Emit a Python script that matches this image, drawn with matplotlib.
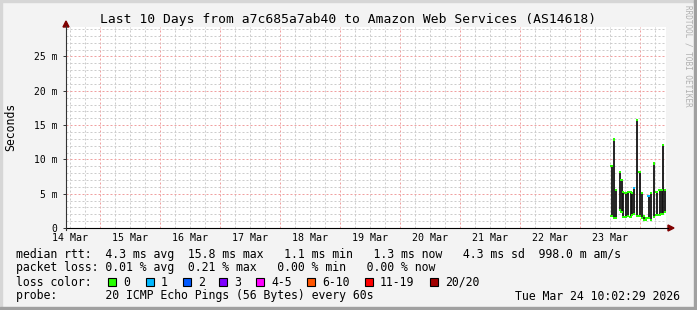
import pandas as pd
import matplotlib
matplotlib.use("Agg")
import matplotlib.pyplot as plt
from matplotlib.lines import Line2D
from matplotlib.patches import Polygon, Rectangle

# smoke samples (per RRD step) on 23/24 Mar, values in ms
times = ["2026-03-23 12:36", "2026-03-23 13:36", "2026-03-23 14:24", "2026-03-23 16:00",
         "2026-03-23 16:36", "2026-03-23 17:12", "2026-03-23 18:12", "2026-03-23 19:12",
         "2026-03-23 20:12", "2026-03-23 20:48", "2026-03-23 21:36", "2026-03-23 22:48",
         "2026-03-23 23:48", "2026-03-24 00:48", "2026-03-24 01:36", "2026-03-24 02:24",
         "2026-03-24 03:24", "2026-03-24 04:24", "2026-03-24 05:36", "2026-03-24 06:36",
         "2026-03-24 07:48", "2026-03-24 08:36", "2026-03-24 09:12", "2026-03-24 10:00"]
rtt_hi = [9.0, 12.9, 5.5, 8.2, 7.0, 5.3, 5.1, 5.3, 5.3, 5.1, 5.8, 15.8,
          8.2, 5.1, 1.75, 1.4, 4.7, 5.15, 9.4, 5.3, 5.5, 5.5, 12.1, 5.5]
rtt_lo = [1.75, 1.4, 1.5, 2.6, 2.4, 1.65, 1.55, 1.75, 1.65, 1.9, 2.1, 1.75,
          1.75, 1.4, 1.2, 1.1, 1.4, 1.2, 1.65, 1.9, 1.9, 2.0, 2.1, 2.4]
loss = [0, 0, 0, 0, 0, 0, 0, 0, 0, 0, 1, 0, 0, 0, 0, 0, 1, 0, 0, 0, 0, 0, 0, 0]

t_start = "2026-03-14 10:24"
t_end = "2026-03-24 10:24"
day_labels = ["14 Mar", "15 Mar", "16 Mar", "17 Mar", "18 Mar",
              "19 Mar", "20 Mar", "21 Mar", "22 Mar", "23 Mar"]
y_ticks = [0, 5, 10, 15, 20, 25]
y_labels = ["0", "5 m", "10 m", "15 m", "20 m", "25 m"]
y_max = 29.3

loss_names = ["0", "1", "2", "3", "4-5", "6-10", "11-19", "20/20"]
loss_colors = ["#26ff00", "#00b8ff", "#0059ff", "#7e00ff", "#ff00ff", "#ff5500", "#ff0000", "#a10000"]

stat_line = "median rtt:  4.3 ms avg  15.8 ms max   1.1 ms min   1.3 ms now   4.3 ms sd  998.0 m am/s"
loss_line = "packet loss: 0.01 % avg  0.21 % max   0.00 % min   0.00 % now"
probe_line = "probe:       20 ICMP Echo Pings (56 Bytes) every 60s"
stamp = "Tue Mar 24 10:02:29 2026"
title = "Last 10 Days from a7c685a7ab40 to Amazon Web Services (AS14618)"

mono = "DejaVu Sans Mono"
W, H = 697, 310
fig = plt.figure(figsize=(W / 100, H / 100), dpi=100, facecolor="#f3f3f3")


def fx(px):
    return px / W


def fy(py):
    return 1 - py / H


left, right, top, bottom = 66, 666, 27, 228
ax = fig.add_axes([fx(left), fy(bottom), (right - left) / W, (bottom - top) / H])
ax.set_facecolor("white")
for s in ax.spines.values():
    s.set_visible(False)

day0 = pd.Timestamp("2026-03-14")
def hours(t):
    return (pd.to_datetime(t) - day0) / pd.Timedelta(hours=1)

h = hours(pd.Series(times)).values
x0, x1 = hours(t_start), hours(t_end)
ax.set_xlim(x0, x1)
ax.set_ylim(0, y_max)

# grid
dots = (0, (2, 2))
for g in range(6, 252, 6):
    if x0 < g < x1:
        major = g % 24 == 0
        ax.axvline(g, color="#f0a0a0" if major else "#cccccc", lw=0.72, ls=dots, zorder=0)
for v in range(1, 30):
    major = v % 5 == 0
    ax.axhline(v, color="#f0a0a0" if major else "#cccccc", lw=0.72, ls=dots, zorder=0)

# smoke bars + median/loss markers
ax.vlines(h, rtt_lo, rtt_hi, colors="#111111", lw=1.3, zorder=2)
cols = [loss_colors[l] for l in loss]
ax.scatter(h, rtt_hi, marker="s", s=2.2, c=cols, linewidths=0, zorder=3)
ax.scatter(h, rtt_lo, marker="s", s=2.2, c=["#26ff00"] * len(h), linewidths=0, zorder=3)

# ticks
noons = [24 * i + 12 for i in range(len(day_labels))]
ax.set_xticks(noons, day_labels, fontsize=7.2, family=mono)
ax.tick_params(axis="x", length=0, pad=3.5)
ax.set_yticks(y_ticks, y_labels, fontsize=7, family=mono)
ax.tick_params(axis="y", length=2, width=0.7, pad=4, color="#333333")

# axes lines with arrows
axis_col = "#333333"
arrow_col = "#7f0000"
fig.add_artist(Line2D([fx(left), fx(668)], [fy(bottom), fy(bottom)], color="black", lw=0.8))
fig.add_artist(Line2D([fx(left), fx(left)], [fy(230), fy(26)], color=axis_col, lw=0.8))
fig.add_artist(Polygon([(fx(668), fy(225)), (fx(674), fy(228)), (fx(668), fy(231))],
                       closed=True, color=arrow_col, transform=fig.transFigure))
fig.add_artist(Polygon([(fx(63), fy(27)), (fx(66), fy(21)), (fx(69), fy(27))],
                       closed=True, color=arrow_col, transform=fig.transFigure))

# frame shading
fig.add_artist(Rectangle((0, fy(2)), 1, 2 / H, color="#d6d6d6", transform=fig.transFigure))
fig.add_artist(Rectangle((0, 0), 2 / W, 1, color="#d6d6d6", transform=fig.transFigure))
fig.add_artist(Rectangle((0, 0), 1, 3 / H, color="#a0a0a0", transform=fig.transFigure))
fig.add_artist(Rectangle((fx(694), 0), 3 / W, 1, color="#a0a0a0", transform=fig.transFigure))

# texts
fig.text(fx(348), fy(19), title, ha="center", va="center", fontsize=9.4, family=mono)
fig.text(fx(11), fy(127), "Seconds", ha="center", va="center", rotation=90, fontsize=8.3, family=mono)
fig.text(fx(688), fy(5), "RRDTOOL / TOBI OETIKER", ha="center", va="top", rotation=270,
         fontsize=5.5, family=mono, color="#b0b0b0")

fig.text(fx(16), fy(254.5), stat_line, ha="left", va="center", fontsize=8.3, family=mono)
fig.text(fx(16), fy(268), loss_line, ha="left", va="center", fontsize=8.3, family=mono)
fig.text(fx(16), fy(282), "loss color:", ha="left", va="center", fontsize=8.3, family=mono)
fig.text(fx(16), fy(296), probe_line, ha="left", va="center", fontsize=8.3, family=mono)
fig.text(fx(680), fy(296), stamp, ha="right", va="center", fontsize=8.3, family=mono)

box_x = [108, 146, 183, 219, 256, 307, 365, 430]
for bx, name, c in zip(box_x, loss_names, loss_colors):
    fig.add_artist(Rectangle((fx(bx), fy(286)), 8 / W, 8 / H, facecolor=c, edgecolor="black",
                             lw=0.8, transform=fig.transFigure))
    fig.text(fx(bx + 15), fy(282), name, ha="left", va="center", fontsize=8.3, family=mono)

fig.savefig("out.png", dpi=100, facecolor=fig.get_facecolor())
